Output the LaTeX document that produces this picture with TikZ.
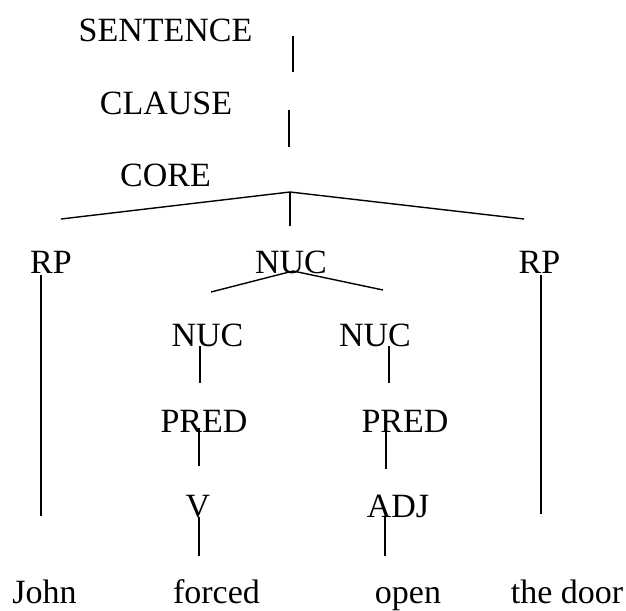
\documentclass[tikz,border=0pt]{standalone}
\usepackage{fontspec}
\setmainfont{Liberation Serif}
\usetikzlibrary{positioning}
\tikzset{
	cat/.style={inner sep=0pt, anchor=base, font=\fontsize{34}{40}\selectfont},
	word/.style={inner sep=0pt, anchor=base, font=\fontsize{34}{40}\selectfont},
}

\begin{document}
\begin{tikzpicture}[x=1pt, y=-1pt]
	\useasboundingbox (0,0) rectangle (626,610);
	
	\node (sentence) [cat] at (165.5,42) {SENTENCE};
	\node (clause) [cat] at (166,114) {CLAUSE};
	\node (core) [cat] at (165.5,186) {CORE};
	
	\node (rp1) [cat] at (51,273) {RP};
	\node (nuc) [cat] at (291,273) {NUC};
	\node (rp2) [cat] at (539.5,273) {RP};
	
	\node (nuc1) [cat] at (207.5,346) {NUC};
	\node (nuc2) [cat] at (375,346) {NUC};
	\node (pred1) [cat] at (204,432) {PRED};
	\node (pred2) [cat] at (405,432) {PRED};
	\node (v) [cat] at (198,517) {V};
	\node (adj) [cat] at (398,517) {ADJ};
	
	\node (john) [word] at (44.5,603) {John};
	\node (forced) [word] at (216.5,603) {forced};
	\node (open) [word] at (408,603) {open};
	\node (door) [word] at (567,603) {the door};
	
	% branch ends
	\coordinate (sentence-a) at (293,36);
	\coordinate (sentence-b) at (293,72);
	\coordinate (clause-a) at (289,110);
	\coordinate (clause-b) at (289,147);
	\coordinate (core-top) at (290,192);
	\coordinate (core-l) at (61,219);
	\coordinate (core-r) at (524,219);
	\coordinate (core-m) at (290,226);
	\coordinate (nuc-top) at (293,271);
	\coordinate (nuc-l) at (211,292);
	\coordinate (nuc-r) at (383,290);
	\coordinate (rp1-a) at (41,275);
	\coordinate (rp1-b) at (41,516);
	\coordinate (rp2-a) at (541,275);
	\coordinate (rp2-b) at (541,514);
	\coordinate (nuc1-a) at (200,346);
	\coordinate (nuc1-b) at (200,383);
	\coordinate (nuc2-a) at (389,346);
	\coordinate (nuc2-b) at (389,383);
	\coordinate (pred1-a) at (199,428);
	\coordinate (pred1-b) at (199,466);
	\coordinate (pred2-a) at (386,430);
	\coordinate (pred2-b) at (386,469);
	\coordinate (v-a) at (199,517);
	\coordinate (v-b) at (199,556);
	\coordinate (adj-a) at (385,517);
	\coordinate (adj-b) at (385,556);
	
	\begin{scope}[line width=1.4pt, black]
		\draw (sentence-a) -- (sentence-b);
		\draw (clause-a) -- (clause-b);
		
		\draw (core-l) -- (core-top) -- (core-r);
		\draw (core-top) -- (core-m);
		
		\draw (nuc-l) -- (nuc-top) -- (nuc-r);
		\draw (rp1-a) -- (rp1-b);
		\draw (rp2-a) -- (rp2-b);
		
		\draw (nuc1-a) -- (nuc1-b);
		\draw (nuc2-a) -- (nuc2-b);
		\draw (pred1-a) -- (pred1-b);
		\draw (pred2-a) -- (pred2-b);
		\draw (v-a) -- (v-b);
		\draw (adj-a) -- (adj-b);
	\end{scope}
	
\end{tikzpicture}
\end{document}
